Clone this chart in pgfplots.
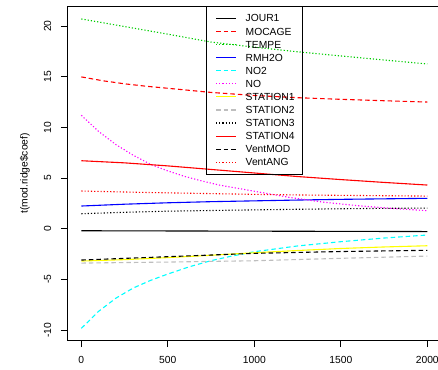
\documentclass[border=0pt]{standalone}
\usepackage{pgfplots}
\pgfplotsset{compat=1.18}
\usepackage{fontspec}
\setmainfont{Liberation Sans}
\definecolor{rgreen}{HTML}{00CD00}
\definecolor{rcyan}{HTML}{00FFFF}
\definecolor{rmag}{HTML}{FF00FF}
\definecolor{ryellow}{HTML}{FFFF00}
\definecolor{rgray}{HTML}{BEBEBE}
\tikzset{
  rsolid/.style={solid},
  rdash/.style={dash pattern=on 4.5pt off 3pt},
  rdot/.style={dash pattern=on 1.2pt off 2pt},
  legline/.style={line width=1.2pt},
  legtext/.style={anchor=base west, inner sep=0pt, font=\fontsize{10.3}{12}\selectfont},
}
\begin{document}
\begin{tikzpicture}[x=1pt,y=1pt]
\begin{axis}[
  at={(67.5pt,28.5pt)}, anchor=south west,
  scale only axis, width=373.6pt, height=334pt,
  xmin=-80, xmax=2080, ymin=-11.03, ymax=21.93,
  xtick={0,500,1000,1500,2000}, ytick={-10,-5,0,5,10,15,20},
  tick align=outside, xtick pos=bottom, ytick pos=left,
  major tick length=6.5pt,
  tick style={black, line width=0.8pt},
  axis line style={black, line width=0.8pt},
  font=\fontsize{10.3}{12}\selectfont,
  /pgf/number format/assume math mode=true,
  /pgf/number format/1000 sep={},
  xticklabel style={anchor=base, yshift=-16.8pt},
  yticklabel style={xshift=-9.8pt, rotate=90, anchor=base},
  ylabel={t(mod.ridge\$coef)},
  ylabel style={at={(axis description cs:-0.1138,0.5)}, anchor=center, rotate=0},
  every axis plot/.append style={line width=1.1pt},
]
% JOUR1
\addplot[black, rsolid] coordinates {(0,-0.2) (500,-0.22) (1000,-0.24) (1500,-0.26) (2000,-0.28)};
% MOCAGE
\addplot[red, rdash] coordinates {(0,14.98) (125,14.6) (250,14.3) (375,14.06) (500,13.86) (750,13.45) (1000,13.15) (1250,12.93) (1500,12.77) (1750,12.63) (2000,12.5)};
% TEMPE
\addplot[rgreen, rdot] coordinates {(0,20.7) (250,19.95) (500,19.2) (750,18.42) (1000,17.92) (1250,17.46) (1500,17.05) (1750,16.65) (2000,16.26)};
% RMH2O
\addplot[blue, rsolid] coordinates {(0,2.24) (250,2.42) (500,2.56) (750,2.67) (1000,2.75) (1250,2.83) (1500,2.9) (1750,2.95) (2000,3.0)};
% NO2
\addplot[rcyan, rdash] coordinates {(0,-9.83) (50,-9.0) (100,-8.15) (200,-6.85) (300,-5.85) (400,-5.1) (500,-4.47) (625,-3.75) (750,-3.15) (875,-2.68) (1000,-2.27) (1250,-1.7) (1500,-1.28) (1750,-0.92) (2000,-0.62)};
% NO
\addplot[rmag, rdot] coordinates {(0,11.19) (100,9.6) (200,8.3) (300,7.25) (400,6.36) (500,5.7) (600,5.15) (700,4.7) (800,4.3) (1000,3.7) (1200,3.1) (1400,2.62) (1600,2.27) (1800,2.0) (2000,1.78)};
% STATION1
\addplot[ryellow, rsolid] coordinates {(0,-3.19) (250,-3.05) (500,-2.85) (750,-2.62) (1000,-2.37) (1250,-2.15) (1500,-1.95) (1750,-1.8) (2000,-1.68)};
% STATION2
\addplot[rgray, rdash] coordinates {(0,-3.39) (500,-3.29) (1000,-3.16) (1500,-2.92) (2000,-2.7)};
% STATION3
\addplot[black, rdot] coordinates {(0,1.48) (250,1.62) (500,1.73) (750,1.8) (1000,1.86) (1250,1.92) (1500,1.97) (1750,2.01) (2000,2.04)};
% STATION4
\addplot[red, rsolid] coordinates {(0,6.71) (250,6.5) (500,6.2) (750,5.85) (1000,5.5) (1250,5.15) (1500,4.85) (1750,4.57) (2000,4.31)};
% VentMOD
\addplot[black, rdash] coordinates {(0,-3.09) (500,-2.76) (1000,-2.43) (1500,-2.25) (2000,-2.13)};
% VentANG
\addplot[red, rdot] coordinates {(0,3.72) (339,3.59) (1000,3.39) (1263,3.33) (2000,3.22)};
\end{axis}
% legend (R legend "top", transparent box)
\draw[black, line width=0.8pt] (206.5,194.5) rectangle (302.5,362.5);
\draw[legline, black, rsolid]   (216,350.70) -- (236,350.70); \node[legtext] at (245.5,347.00) {JOUR1};
\draw[legline, red, rdash]      (216,337.61) -- (236,337.61); \node[legtext] at (245.5,333.91) {MOCAGE};
\draw[legline, rgreen, rdot]    (216,324.52) -- (236,324.52); \node[legtext] at (245.5,320.82) {TEMPE};
\draw[legline, blue, rsolid]    (216,311.43) -- (236,311.43); \node[legtext] at (245.5,307.73) {RMH2O};
\draw[legline, rcyan, rdash]    (216,298.34) -- (236,298.34); \node[legtext] at (245.5,294.64) {NO2};
\draw[legline, rmag, rdot]      (216,285.25) -- (236,285.25); \node[legtext] at (245.5,281.55) {NO};
\draw[legline, ryellow, rsolid] (216,272.16) -- (236,272.16); \node[legtext] at (245.5,268.46) {STATION1};
\draw[legline, rgray, rdash]    (216,259.07) -- (236,259.07); \node[legtext] at (245.5,255.37) {STATION2};
\draw[legline, black, rdot]     (216,245.98) -- (236,245.98); \node[legtext] at (245.5,242.28) {STATION3};
\draw[legline, red, rsolid]     (216,232.89) -- (236,232.89); \node[legtext] at (245.5,229.19) {STATION4};
\draw[legline, black, rdash]    (216,219.80) -- (236,219.80); \node[legtext] at (245.5,216.10) {VentMOD};
\draw[legline, red, rdot]       (216,206.71) -- (236,206.71); \node[legtext] at (245.5,203.01) {VentANG};
\pgfresetboundingbox
\useasboundingbox (0,0) rectangle (438,369);
\end{tikzpicture}
\end{document}
